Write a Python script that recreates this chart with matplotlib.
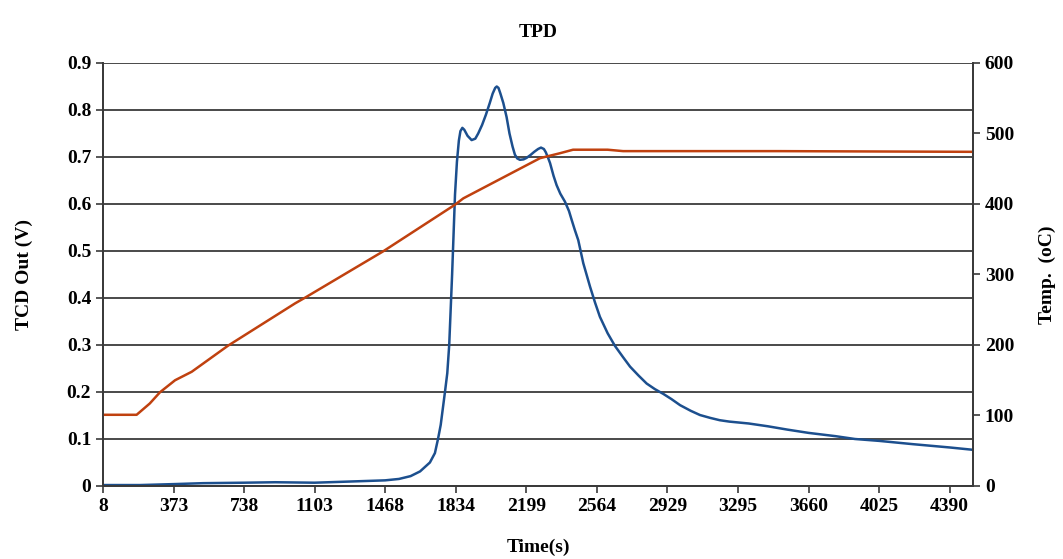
import numpy as np
import matplotlib.pyplot as plt

plt.rcParams['font.family'] = ['Liberation Serif', 'DejaVu Serif']
plt.rcParams['font.weight'] = 'bold'

# TCD signal (V) vs time (s)
t_tcd = [8, 200, 373, 525, 738, 900, 1103, 1250, 1468, 1540, 1600, 1649, 1700,
         1726, 1742, 1756, 1778, 1790, 1800, 1815, 1830, 1840, 1850, 1858, 1868,
         1878, 1895, 1916, 1935, 1950, 1970, 1990, 2010, 2025, 2038, 2046, 2055,
         2065, 2080, 2097, 2112, 2128, 2140, 2152, 2166, 2185, 2200, 2220, 2240,
         2260, 2275, 2290, 2300, 2312, 2322, 2340, 2356, 2375, 2399, 2420, 2434,
         2450, 2468, 2494, 2529, 2555, 2580, 2620, 2658, 2700, 2736, 2780, 2822,
         2865, 2908, 2950, 2995, 3050, 3098, 3150, 3200, 3250, 3350, 3450, 3550,
         3660, 3800, 3900, 4025, 4200, 4390, 4511]
tcd = [0.002, 0.002, 0.004, 0.006, 0.007, 0.008, 0.007, 0.009, 0.012, 0.015,
       0.021, 0.031, 0.05, 0.07, 0.1, 0.13, 0.2, 0.24, 0.3, 0.45, 0.62, 0.69,
       0.735, 0.755, 0.762, 0.758, 0.745, 0.736, 0.739, 0.75, 0.768, 0.79, 0.815,
       0.835, 0.847, 0.85, 0.847, 0.835, 0.815, 0.785, 0.75, 0.722, 0.705,
       0.697, 0.694, 0.695, 0.698, 0.704, 0.711, 0.717, 0.72, 0.717, 0.71,
       0.698, 0.687, 0.66, 0.64, 0.622, 0.605, 0.585, 0.566, 0.545, 0.523,
       0.474, 0.424, 0.39, 0.36, 0.325, 0.298, 0.274, 0.254, 0.235, 0.218,
       0.206, 0.196, 0.185, 0.172, 0.16, 0.151, 0.145, 0.14, 0.137, 0.133,
       0.127, 0.12, 0.113, 0.106, 0.1, 0.096, 0.089, 0.082, 0.077]

# Temperature (oC) vs time (s)
t_temp = [8, 182, 250, 303, 381, 467, 655, 1002, 1053, 1459, 1830, 1873, 2270,
          2373, 2441, 2620, 2700, 3500, 4511]
temp = [101, 101, 117, 133, 150, 162, 199, 259, 267, 333, 399, 408, 465,
        472, 477, 477, 475, 475, 474]

xticks = [8, 373, 738, 1103, 1468, 1834, 2199, 2564, 2929, 3295, 3660, 4025, 4390]

fig = plt.figure(figsize=(10.63, 5.59), dpi=100)
ax = fig.add_axes([0.0969, 0.1306, 0.8184, 0.7567])
ax2 = ax.twinx()

ax.plot(t_tcd, tcd, color='#1c4f8e', lw=1.8)
ax2.plot(t_temp, temp, color='#c0410f', lw=1.8)

ax.set_xlim(8, 4511)
ax.set_ylim(0, 0.9)
ax2.set_ylim(0, 600)
ax.set_xticks(xticks)
ax.set_yticks(np.arange(0, 0.91, 0.1))
ax.set_yticklabels(['0', '0.1', '0.2', '0.3', '0.4', '0.5', '0.6', '0.7', '0.8', '0.9'])
ax2.set_yticks(range(0, 601, 100))

ax.grid(axis='y', color='#3a3a3a', lw=1.3)
ax.set_axisbelow(True)
for a in (ax, ax2):
    a.spines['top'].set_visible(False)
    for s in ('left', 'right', 'bottom'):
        a.spines[s].set_color('#3a3a3a')
        a.spines[s].set_linewidth(1.3)
    a.tick_params(direction='out', length=5, width=1.2, color='#3a3a3a',
                  labelsize=14)

ax.set_title('TPD', fontsize=14, fontweight='bold', pad=19)
ax.set_xlabel('Time(s)', fontsize=14, fontweight='bold', labelpad=17)
ax.set_ylabel('TCD Out (V)', fontsize=14, fontweight='bold', labelpad=24)
ax2.set_ylabel('Temp.  (oC)', fontsize=14, fontweight='bold', labelpad=18)

fig.savefig('out.png', dpi=100)
